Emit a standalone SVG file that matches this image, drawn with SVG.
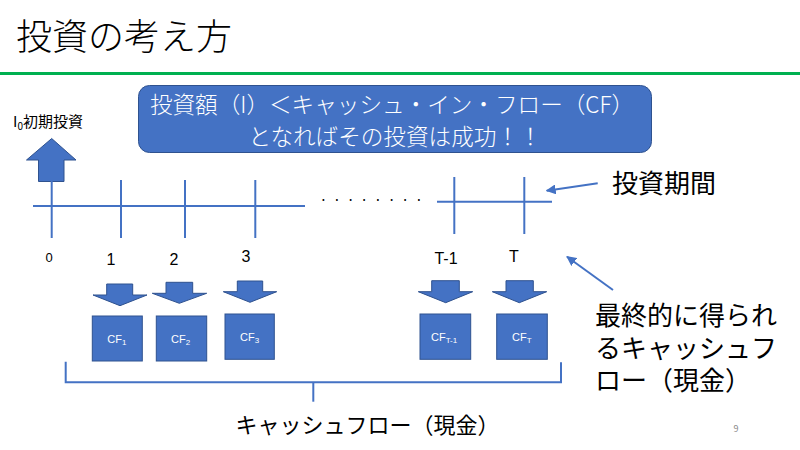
<svg xmlns="http://www.w3.org/2000/svg" width="800" height="450" viewBox="0 0 800 450">
<style>
text{font-family:"Noto Sans CJK JP","Noto Sans",sans-serif;fill:#000}
.light{font-family:"Noto Sans CJK JP Light","Noto Sans CJK JP DemiLight","Noto Sans CJK JP",sans-serif;font-weight:300}
.tl{stroke:#4472C4;stroke-width:2;fill:none}
.shape{fill:#4472C4;stroke:#2F528F;stroke-width:1}
.cf{fill:#fff;font-size:11px;font-family:"Liberation Sans","Noto Sans",sans-serif}
.num{font-size:16px;font-family:"Liberation Sans","Noto Sans",sans-serif;text-anchor:middle}
.pt{stroke:#4472C4;stroke-width:2;fill:none;marker-end:url(#ah)}
</style>
<defs>
<marker id="ah" viewBox="0 0 10 10" refX="9" refY="5" markerWidth="5" markerHeight="5" orient="auto" markerUnits="strokeWidth">
<path d="M0,0 L10,5 L0,10 z" fill="#4472C4"/>
</marker>
</defs>
<rect width="800" height="450" fill="#fff"/>
<g id="title">
<text class="light" x="16" y="50" font-size="36">投資の考え方</text>
<rect x="0" y="72" width="800" height="3" fill="#00B050"/>
</g>
<g id="message">
<rect x="138.5" y="85.5" width="513" height="67" rx="11" class="shape"/>
<text class="light" x="392" y="113" font-size="22.6" text-anchor="middle" style="fill:#fff">投資額（I）＜キャッシュ・イン・フロー（CF）</text>
<text class="light" x="395" y="145" font-size="22.6" text-anchor="middle" style="fill:#fff">となればその投資は成功！！</text>
</g>
<g id="initial-investment">
<text x="13" y="127" font-size="15">I<tspan font-size="10" dy="3">0</tspan><tspan dy="-3">初期投資</tspan></text>
<path class="shape" d="M51.7,138.5 L76,160 L64,160 L64,181.5 L38.5,181.5 L38.5,160 L26.5,160 Z"/>
</g>
<g id="timeline">
<line class="tl" x1="33" y1="206" x2="305" y2="206"/>
<line class="tl" x1="51.7" y1="180" x2="51.7" y2="238"/>
<line class="tl" x1="121" y1="180" x2="121" y2="238"/>
<line class="tl" x1="185" y1="180" x2="185" y2="238"/>
<line class="tl" x1="255.3" y1="180" x2="255.3" y2="238"/>
<text x="374" y="205" font-size="14" text-anchor="middle" letter-spacing="5.8" font-family="Liberation Sans,sans-serif">········</text>
<line class="tl" x1="437" y1="201.7" x2="552" y2="201.7"/>
<line class="tl" x1="454.3" y1="177" x2="454.3" y2="234"/>
<line class="tl" x1="524.3" y1="177" x2="524.3" y2="234"/>
<text class="num" x="49" y="262" style="font-size:13px">0</text>
<text class="num" x="111" y="265">1</text>
<text class="num" x="174" y="265">2</text>
<text class="num" x="246" y="262">3</text>
<text class="num" x="446" y="264">T-1</text>
<text class="num" x="514" y="262">T</text>
</g>
<g id="cf-arrows">
<path class="shape" d="M106.7,284 L132.7,284 L132.7,295 L147,295 L120,305.7 L93,295 L106.7,295 Z"/>
<path class="shape" d="M166,282.3 L192.7,282.3 L192.7,293.3 L206.7,293.3 L179.3,303.3 L152.3,293.3 L166,293.3 Z"/>
<path class="shape" d="M237.3,281 L262.7,281 L262.7,291.7 L276.7,291.7 L250,302.3 L223.3,291.7 L237.3,291.7 Z"/>
<path class="shape" d="M431.7,280.7 L459.3,280.7 L459.3,291.7 L472.7,291.7 L445.7,302.7 L418.3,291.7 L431.7,291.7 Z"/>
<path class="shape" d="M506,280.7 L533.3,280.7 L533.3,291.7 L546.7,291.7 L519.3,302.7 L492.3,291.7 L506,291.7 Z"/>
</g>
<g id="cf1">
<rect class="shape" x="92.3" y="316" width="50" height="45"/>
<text class="cf" x="107.3" y="343">CF<tspan font-size="8" dy="2">1</tspan></text>
</g>
<g id="cf2">
<rect class="shape" x="156.3" y="316" width="50.4" height="45"/>
<text class="cf" x="171" y="343">CF<tspan font-size="8" dy="2">2</tspan></text>
</g>
<g id="cf3">
<rect class="shape" x="225" y="314" width="49.3" height="45.3"/>
<text class="cf" x="240" y="341">CF<tspan font-size="8" dy="2">3</tspan></text>
</g>
<g id="cft-1">
<rect class="shape" x="420" y="314" width="50.7" height="45.3"/>
<text class="cf" x="431" y="341">CF<tspan font-size="8" dy="2">T-1</tspan></text>
</g>
<g id="cft">
<rect class="shape" x="496.7" y="314" width="50.6" height="45.3"/>
<text class="cf" x="512" y="341">CF<tspan font-size="8" dy="2">T</tspan></text>
</g>
<g id="bracket">
<path class="tl" d="M65.7,361.7 L65.7,382.3 L561,382.3 L561,362.3"/>
<line class="tl" x1="313.3" y1="382.3" x2="313.3" y2="401.7"/>
<text x="235.5" y="433" font-size="22">キャッシュフロー（現金）</text>
</g>
<g id="connectors">
<line class="pt" x1="597.7" y1="183.3" x2="546.7" y2="190.7"/>
<line class="pt" x1="613" y1="290" x2="567" y2="256.7"/>
</g>
<g id="period-label">
<text x="612" y="193" font-size="26">投資期間</text>
</g>
<g id="final-label">
<text x="595" y="325" font-size="26">最終的に得られ</text>
<text x="595" y="358" font-size="26">るキャッシュフ</text>
<text x="595" y="390" font-size="26">ロー（現金）</text>
</g>
<text x="736" y="432" font-size="9" style="fill:#888" text-anchor="middle" font-family="Liberation Sans,sans-serif">9</text>
</svg>
